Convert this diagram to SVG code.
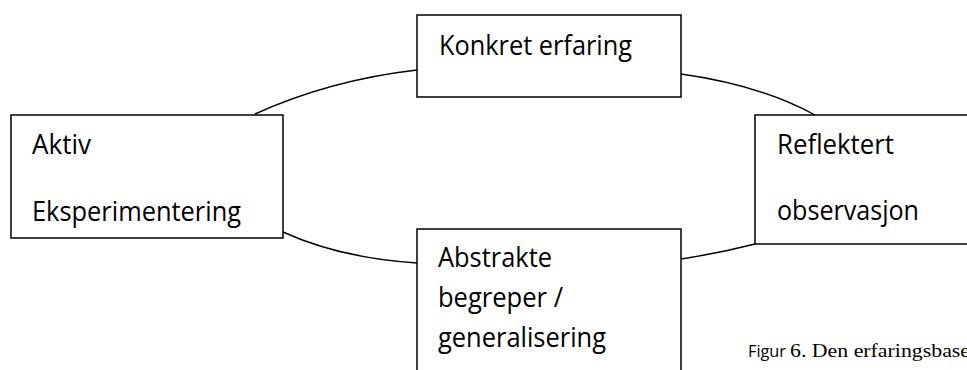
<svg xmlns="http://www.w3.org/2000/svg" width="967" height="370" viewBox="0 0 967 370">
<style>
.box{fill:#fff;stroke:#000;stroke-width:1.5}
.lbl{font-family:"Open Sans","Noto Sans","Liberation Sans",sans-serif;font-size:26.5px;fill:#000}
.con{fill:none;stroke:#000;stroke-width:1.4}
.cap-s{font-family:"Open Sans","Liberation Sans",sans-serif;font-size:17px;fill:#000}
.cap-r{font-family:"Liberation Serif","Times New Roman",serif;font-size:19px;fill:#000}
</style>
<rect width="967" height="370" fill="#fff"/>
<g id="connectors">
<path class="con" d="M255,114 Q330,80 417,70"/>
<path class="con" d="M681,74 Q760,85 815,115"/>
<path class="con" d="M283,232 Q340,258 417,263"/>
<path class="con" d="M681,259 Q720,253 755,244"/>
</g>
<g id="konkret">
<rect class="box" x="417" y="15" width="264" height="82"/>
<text class="lbl" x="439" y="55" textLength="193" lengthAdjust="spacingAndGlyphs">Konkret erfaring</text>
</g>
<g id="aktiv">
<rect class="box" x="11" y="115" width="272" height="123"/>
<text class="lbl" x="32" y="154" textLength="59" lengthAdjust="spacingAndGlyphs">Aktiv</text>
<text class="lbl" x="32" y="221" textLength="209" lengthAdjust="spacingAndGlyphs">Eksperimentering</text>
</g>
<g id="abstrakte">
<rect class="box" x="417" y="229" width="264" height="160"/>
<text class="lbl" x="438" y="267" textLength="114" lengthAdjust="spacingAndGlyphs">Abstrakte</text>
<text class="lbl" x="438" y="307" textLength="125" lengthAdjust="spacingAndGlyphs">begreper /</text>
<text class="lbl" x="438" y="347" textLength="168" lengthAdjust="spacingAndGlyphs">generalisering</text>
</g>
<g id="reflektert">
<rect class="box" x="755" y="115" width="260" height="129"/>
<text class="lbl" x="777" y="154" textLength="117" lengthAdjust="spacingAndGlyphs">Reflektert</text>
<text class="lbl" x="777" y="220" textLength="142" lengthAdjust="spacingAndGlyphs">observasjon</text>
</g>
<g id="caption">
<text class="cap-s" x="748" y="357" textLength="38" lengthAdjust="spacingAndGlyphs">Figur</text>
<text class="cap-r" x="790" y="357" textLength="180" lengthAdjust="spacingAndGlyphs">6. Den erfaringsbase</text>
</g>
</svg>
